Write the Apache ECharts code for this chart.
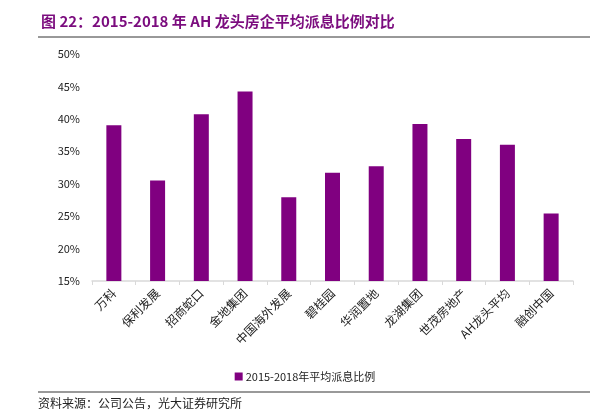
<!DOCTYPE html>
<html><head><meta charset="utf-8">
<script src="https://cdn.jsdelivr.net/npm/echarts@6/dist/echarts.min.js"></script>
<style>html,body{margin:0;padding:0;background:#fff}#c{width:610px;height:419px}</style>
</head><body><div id="c"></div>
<script>
var categories = ['万科','保利发展','招商蛇口','金地集团','中国海外发展','碧桂园','华润置地','龙湖集团','世茂房地产','AH龙头平均','融创中国'];
var payoutRatio = [39.0, 30.5, 40.7, 44.2, 27.9, 31.7, 32.7, 39.2, 36.9, 36.0, 25.4];
var seriesName = '2015-2018年平均派息比例';
var yTicks = {min: 15, max: 50, interval: 5};

var chart = echarts.init(document.getElementById('c'));
var font = '"Noto Sans CJK SC", "Noto Sans", sans-serif';
chart.setOption({
  animation: false,
  textStyle: {fontFamily: font},
  title: {
    text: '图 22：2015-2018 年 AH 龙头房企平均派息比例对比',
    left: 36, top: 9,
    textStyle: {color: '#7B0C7E', fontSize: 15, fontWeight: 'bold', fontFamily: font}
  },
  graphic: [
    {type: 'line', shape: {x1: 38, y1: 37, x2: 590, y2: 37}, style: {stroke: '#333', lineWidth: 1}},
    {type: 'line', shape: {x1: 38, y1: 392, x2: 590, y2: 392}, style: {stroke: '#777', lineWidth: 1.5}},
    {type: 'text', left: 38, top: 397, style: {text: '资料来源：公司公告，光大证券研究所', fill: '#222', font: '12px ' + font}}
  ],
  legend: {
    data: [seriesName], top: 366, left: 'center',
    itemWidth: 8, itemHeight: 8, itemGap: 4, icon: 'rect',
    textStyle: {fontSize: 11, color: '#222', padding: [0,0,0,-2]}
  },
  grid: {left: 92, right: 37, top: 54, bottom: 138, containLabel: false},
  xAxis: {
    type: 'category', data: categories,
    axisLine: {lineStyle: {color: '#d9d9d9', width: 1.5}},
    axisTick: {show: true, alignWithLabel: false, length: 4, lineStyle: {color: '#d9d9d9'}},
    axisLabel: {rotate: 45, fontSize: 12, color: '#222', interval: 0, margin: 10}
  },
  yAxis: {
    type: 'value', min: yTicks.min, max: yTicks.max, interval: yTicks.interval,
    axisLine: {show: false}, axisTick: {show: false}, splitLine: {show: false},
    axisLabel: {formatter: '{value}%', fontSize: 11, color: '#222', margin: 12}
  },
  series: [{
    name: seriesName, type: 'bar', data: payoutRatio, barWidth: 15,
    itemStyle: {color: '#800080'}
  }]
});
</script></body></html>
